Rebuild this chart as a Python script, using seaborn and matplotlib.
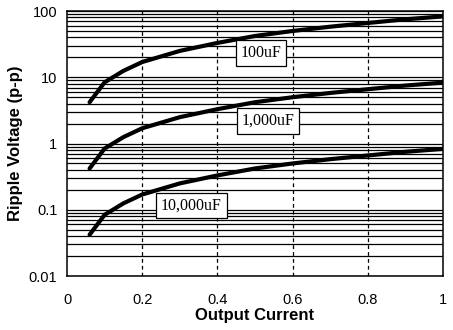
import matplotlib
matplotlib.use("Agg")
import matplotlib.pyplot as plt
import matplotlib.ticker as mticker
import seaborn as sns
import pandas as pd

current = [0.06, 0.1, 0.15, 0.2, 0.3, 0.4, 0.5, 0.6, 0.7, 0.8, 0.9, 1.0]
ripple_100uF = [4.2, 8.4, 12.5, 17, 25, 33, 42, 50, 58, 66, 75, 83]
ripple_1000uF = [0.42, 0.84, 1.25, 1.7, 2.5, 3.3, 4.2, 5.0, 5.8, 6.6, 7.5, 8.3]
ripple_10000uF = [0.042, 0.084, 0.125, 0.17, 0.25, 0.33, 0.42, 0.50, 0.58, 0.66, 0.75, 0.83]
series_names = ["100uF", "1,000uF", "10,000uF"]
label_x = [0.516, 0.535, 0.331]
label_y = [23.2, 2.19, 0.116]
x_ticks = [0, 0.2, 0.4, 0.6, 0.8, 1]
x_tick_labels = ["0", "0.2", "0.4", "0.6", "0.8", "1"]
y_ticks = [0.01, 0.1, 1, 10, 100]
y_tick_labels = ["0.01", "0.1", "1", "10", "100"]

rows = []
for name, vals in zip(series_names, [ripple_100uF, ripple_1000uF, ripple_10000uF]):
    for x, v in zip(current, vals):
        rows.append({"Output Current": x, "Ripple": v, "Cap": name})
df = pd.DataFrame(rows)

sns.set_style("white")
plt.rcParams['font.family'] = ['Liberation Sans', 'DejaVu Sans']
plt.rcParams['text.color'] = 'black'
plt.rcParams['axes.labelcolor'] = 'black'
plt.rcParams['xtick.color'] = 'black'
plt.rcParams['ytick.color'] = 'black'

fig = plt.figure(figsize=(4.53, 3.30), dpi=100)
ax = fig.add_axes([0.148, 0.1636, 0.830, 0.803])

ax.set_yscale("log")
ax.set_ylim(0.01, 100)
ax.set_xlim(0, 1)

# grid
ax.yaxis.set_minor_locator(mticker.LogLocator(base=10, subs=range(2, 10)))
ax.yaxis.set_minor_formatter(mticker.NullFormatter())
ax.grid(True, which="both", axis="y", color="black", linewidth=0.9, linestyle="-")
for gx in [0.2, 0.4, 0.6, 0.8]:
    ax.axvline(gx, color="black", linewidth=0.9, linestyle=(0, (3, 2.5)), zorder=1)

for name in series_names:
    sub = df[df["Cap"] == name]
    sns.lineplot(data=sub, x="Output Current", y="Ripple", ax=ax, color="black",
                 linewidth=3.0, legend=False, zorder=3)

ax.set_xticks(x_ticks)
ax.set_xticklabels(x_tick_labels)
ax.xaxis.set_minor_locator(mticker.FixedLocator([0.1, 0.3, 0.5, 0.7, 0.9]))
ax.set_yticks(y_ticks)
ax.set_yticklabels(y_tick_labels)
ax.tick_params(axis="both", which="major", direction="out", length=4, width=1,
               color="black", labelsize=10.5, labelcolor="black", pad=3)
ax.tick_params(axis="x", which="minor", direction="inout", length=6, width=1, color="black")
ax.tick_params(axis="y", which="minor", length=0)
ax.tick_params(axis="x", pad=8)

for sp in ax.spines.values():
    sp.set_color("black")
    sp.set_linewidth(1.1)

ax.set_xlabel("Output Current", fontsize=12, fontweight="bold", labelpad=1, color="black")
ax.set_ylabel("Ripple Voltage (p-p)", fontsize=12, fontweight="bold", labelpad=4, color="black")

for name, lx, ly in zip(series_names, label_x, label_y):
    ax.text(lx, ly, name, ha="center", va="center", fontsize=11.5, color="black",
            family=["Liberation Serif", "DejaVu Serif"], zorder=5,
            bbox=dict(boxstyle="square,pad=0.3", facecolor="white", edgecolor="black", linewidth=0.9))

fig.savefig("out.png", dpi=100, facecolor="white")
